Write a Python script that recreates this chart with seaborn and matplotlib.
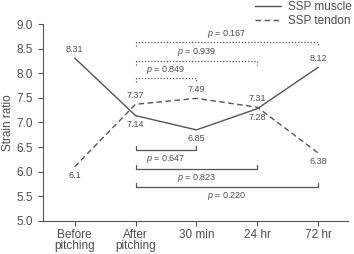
import matplotlib
matplotlib.use("Agg")
import matplotlib.pyplot as plt
import seaborn as sns
import pandas as pd

categories = ["Before\npitching", "After\npitching", "30 min", "24 hr", "72 hr"]
muscle = [8.31, 7.14, 6.85, 7.28, 8.12]
tendon = [6.1, 7.37, 7.49, 7.31, 6.38]
muscle_labels = ["8.31", "7.14", "6.85", "7.28", "8.12"]
tendon_labels = ["6.1", "7.37", "7.49", "7.31", "6.38"]

# comparisons (from After pitching to target index)
upper_targets = [2, 3, 4]
upper_levels = [7.90, 8.25, 8.63]
upper_p = ["0.849", "0.939", "0.167"]
lower_targets = [2, 3, 4]
lower_levels = [6.44, 6.05, 5.69]
lower_p = ["0.647", "0.823", "0.220"]

sns.set_style("ticks")
plt.rcParams['font.family'] = ['Liberation Sans', 'DejaVu Sans']
plt.rcParams['mathtext.fontset'] = 'custom'
plt.rcParams['mathtext.it'] = 'Liberation Sans:italic'
plt.rcParams['mathtext.rm'] = 'Liberation Sans'

gray = "#555555"
tgray = "#4d4d4d"

df = pd.DataFrame({
    "x": list(range(5)) * 2,
    "value": muscle + tendon,
    "series": ["SSP muscle"] * 5 + ["SSP tendon"] * 5,
})

fig = plt.figure(figsize=(3.54, 2.54), dpi=100)
ax = fig.add_axes([0.1215, 0.130, 0.8615, 0.7755])

sns.lineplot(data=df, x="x", y="value", hue="series", style="series",
             palette=[gray, gray], dashes={"SSP muscle": "", "SSP tendon": (4, 2.5)},
             linewidth=1.0, ax=ax, legend=True)

ax.set_xlim(-0.52, 4.49)
ax.set_ylim(5.0, 9.0)
ax.set_yticks([5.0, 5.5, 6.0, 6.5, 7.0, 7.5, 8.0, 8.5, 9.0])
ax.set_yticklabels([f"{v:.1f}" for v in ax.get_yticks()])
ax.set_xticks(range(5))
ax.set_xticklabels(categories, linespacing=0.95)
ax.set_xlabel("")
ax.set_ylabel("Strain ratio", fontsize=8.5, color=tgray, labelpad=2)
ax.tick_params(axis="both", labelsize=8.5, colors=gray, labelcolor=tgray, length=3.5, width=0.8)
ax.tick_params(axis="x", pad=2)
for s in ["top", "right"]:
    ax.spines[s].set_visible(False)
for s in ["left", "bottom"]:
    ax.spines[s].set_color(gray)
    ax.spines[s].set_linewidth(0.8)

# data labels
muscle_va = ["bottom", "top", "top", "top", "bottom"]
tendon_va = ["top", "bottom", "bottom", "bottom", "top"]
for i in range(5):
    off = 3 if muscle_va[i] == "bottom" else -3
    ax.annotate(muscle_labels[i], (i, muscle[i]), xytext=(0, off), textcoords="offset points",
                ha="center", va=muscle_va[i], fontsize=6.5, color=tgray)
    off = 3 if tendon_va[i] == "bottom" else -3
    ax.annotate(tendon_labels[i], (i, tendon[i]), xytext=(0, off), textcoords="offset points",
                ha="center", va=tendon_va[i], fontsize=6.5, color=tgray)

tick_h = 0.08
for t, lvl, p in zip(upper_targets, upper_levels, upper_p):
    ax.plot([1, 1, t, t], [lvl - tick_h, lvl, lvl, lvl - tick_h], color=gray, lw=0.9,
            linestyle=(0, (1, 1.5)))
    ax.text((1 + t) / 2, lvl + 0.05, f"$p$ = {p}", ha="center", va="bottom", fontsize=6.5, color=tgray)
for t, lvl, p in zip(lower_targets, lower_levels, lower_p):
    ax.plot([1, 1, t, t], [lvl + tick_h, lvl, lvl, lvl + tick_h], color=gray, lw=0.9)
    ax.text((1 + t) / 2, lvl - 0.06, f"$p$ = {p}", ha="center", va="top", fontsize=6.5, color=tgray)

leg = ax.legend(loc="upper right", bbox_to_anchor=(0.998, 1.0), bbox_transform=fig.transFigure,
                frameon=False, fontsize=8.5, handlelength=2.2, handletextpad=0.6,
                labelspacing=0.15, borderaxespad=0, borderpad=0.1)
for t in leg.get_texts():
    t.set_color(tgray)

fig.savefig("out.png", dpi=100)
